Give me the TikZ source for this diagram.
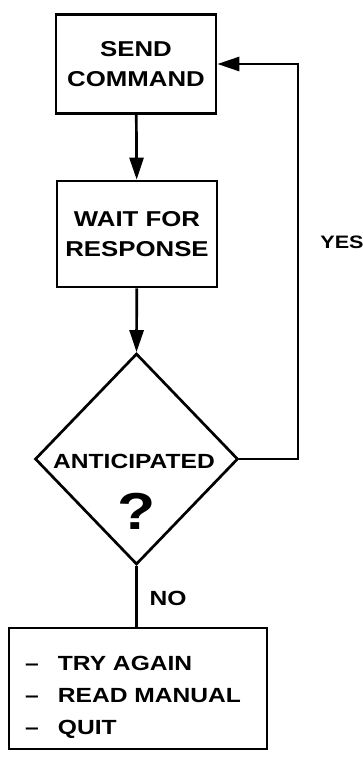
\documentclass[tikz,border=0pt]{standalone}
\usepackage{fontspec}
\setmainfont{Liberation Sans}[FakeStretch=1.2]
\usetikzlibrary{arrows.meta,shapes.geometric}
\tikzset{
  box/.style={draw, line width=2.7pt, inner sep=0pt, align=center,
    font=\bfseries\fontsize{21.5}{30}\selectfont},
  dia/.style={draw, diamond, line width=2.7pt, inner sep=0pt, aspect=0.96},
  lbl/.style={inner sep=0pt, font=\bfseries\fontsize{20.5}{30}\selectfont},
  flow/.style={line width=2.7pt, -{Triangle[length=22pt,width=14pt]}},
  plain/.style={line width=2.7pt}
}
\begin{document}
\begin{tikzpicture}[x=1pt,y=-1pt]
\useasboundingbox (0,0) rectangle (363,759);
\node[box, minimum width=160pt, minimum height=99pt] (send) at (136,64) {SEND\\COMMAND};
\node[box, minimum width=160pt, minimum height=106pt] (wait) at (137,234) {WAIT FOR\\RESPONSE};
\node[dia, minimum width=203pt, minimum height=211pt] (anti) at (136.5,459) {};
\node[lbl] (antitext) at (134,461) {ANTICIPATED};
\node[lbl, font=\bfseries\fontsize{52}{52}\selectfont] (q) at (137,511) {?};
\node[draw, line width=2.7pt, minimum width=258pt, minimum height=121pt, inner sep=0pt] (act) at (138,688.5) {};
\node[lbl, anchor=west, align=left, font=\bfseries\fontsize{20.5}{32}\selectfont] (acttext) at (25,697)
  {–\hspace{19pt}TRY AGAIN\\–\hspace{19pt}READ MANUAL\\–\hspace{19pt}QUIT};
\node[lbl, font=\bfseries\fontsize{18}{20}\selectfont] (yes) at (342,242) {YES};
\node[lbl] (no) at (168,598) {NO};
\coordinate (fb) at (298,64);
\draw[flow] (send) -- (wait);
\draw[flow] (wait) -- (anti.north);
\draw[flow] (anti.east) -| (fb) -- (send.east);
\draw[plain] (anti.south) -- (anti.south |- act.north);
\end{tikzpicture}
\end{document}
